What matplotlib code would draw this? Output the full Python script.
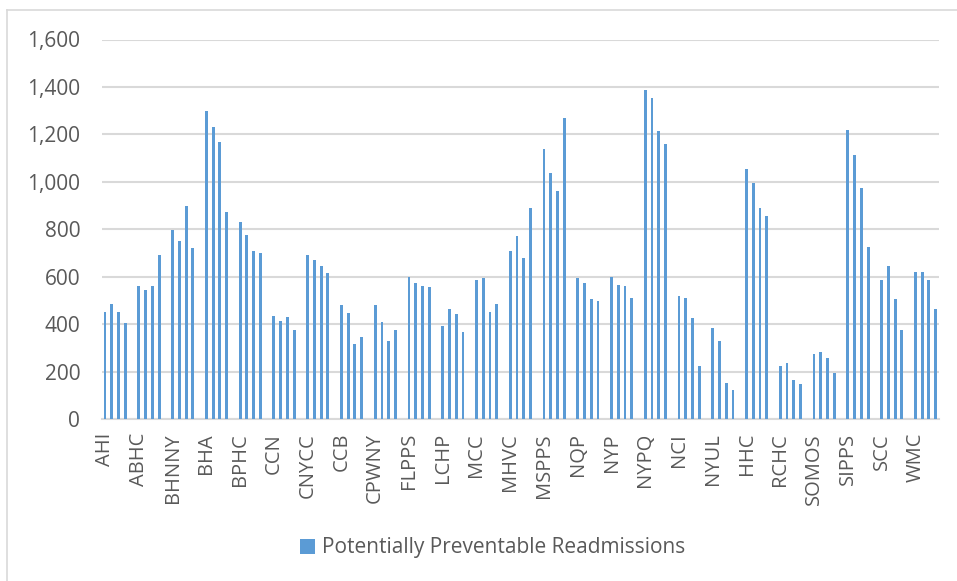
import matplotlib
matplotlib.use("Agg")
import matplotlib.pyplot as plt
from matplotlib.lines import Line2D
from matplotlib.patches import Patch
import numpy as np

plt.rcParams['font.family'] = ['Open Sans', 'DejaVu Sans']

pps_names = ["AHI", "ABHC", "BHNNY", "BHA", "BPHC", "CCN", "CNYCC", "CCB", "CPWNY",
             "FLPPS", "LCHP", "MCC", "MHVC", "MSPPS", "NQP", "NYP", "NYPQ", "NCI",
             "NYUL", "HHC", "RCHC", "SOMOS", "SIPPS", "SCC", "WMC"]
bar1 = [452, 560, 798, 1297, 830, 435, 690, 479, 479, 598, 393, 587, 707, 1139, 593, 597, 1386, 517, 382, 1052, 225, 273, 1219, 587, 619]
bar2 = [485, 543, 750, 1230, 777, 414, 669, 447, 409, 572, 463, 593, 770, 1037, 572, 565, 1354, 511, 327, 997, 235, 284, 1111, 646, 619]
bar3 = [452, 560, 896, 1167, 708, 431, 646, 317, 327, 559, 441, 452, 678, 961, 506, 559, 1214, 424, 153, 889, 164, 256, 976, 506, 587]
bar4 = [403, 690, 723, 874, 701, 376, 614, 344, 376, 555, 365, 483, 889, 1268, 496, 511, 1160, 225, 121, 857, 149, 192, 726, 376, 463]
series_label = "Potentially Preventable Readmissions"
y_ticks = [0, 200, 400, 600, 800, 1000, 1200, 1400, 1600]

# Build category slots: 4 bars per PPS, one blank slot between groups
xs, vals = [], []
label_pos = []
slot = 0
for i, name in enumerate(pps_names):
    label_pos.append(slot)
    for v in (bar1[i], bar2[i], bar3[i], bar4[i]):
        xs.append(slot)
        vals.append(v)
        slot += 1
    if i < len(pps_names) - 1:
        slot += 1
n_slots = slot

W, H = 957, 581
fig = plt.figure(figsize=(W / 100, H / 100), dpi=100)
left, right, top, bottom = 101.7, 939, 39.5, 419
ax = fig.add_axes([left / W, 1 - bottom / H, (right - left) / W, (bottom - top) / H])

blue = "#5B9BD5"
grey_text = "#595959"
ax.bar(xs, vals, width=0.42, color=blue, zorder=3)

ax.set_xlim(-0.5, n_slots - 0.5)
ax.set_ylim(0, 1600)
ax.set_yticks(y_ticks)
ax.set_yticklabels([f"{t:,}" for t in y_ticks])
ax.set_xticks(label_pos)
ax.set_xticklabels(pps_names, rotation=90, va="top", ha="center")

ax.grid(axis="y", color="#D9D9D9", linewidth=1.5, zorder=0)
ax.tick_params(axis="both", length=0, colors=grey_text, labelsize=15)
ax.tick_params(axis="y", pad=15.5)
ax.tick_params(axis="x", pad=10, labelsize=14.5)
for s in ["top", "right", "left"]:
    ax.spines[s].set_visible(False)
ax.spines["bottom"].set_color("#D9D9D9")
ax.spines["bottom"].set_linewidth(1.5)

handles = [Patch(facecolor=blue, edgecolor="none", label=series_label)]
leg = fig.legend(handles=handles, loc="center", bbox_to_anchor=(493 / W, 1 - 548 / H),
                 frameon=False, fontsize=15, handlelength=0.7, handleheight=0.7,
                 handletextpad=0.35, labelcolor=grey_text)

# chart area border
fig.add_artist(Line2D([7 / W, 7 / W], [0, 1 - 10 / H], transform=fig.transFigure,
                      color="#D9D9D9", linewidth=1.2))
fig.add_artist(Line2D([7 / W, 1], [1 - 10 / H, 1 - 10 / H], transform=fig.transFigure,
                      color="#D9D9D9", linewidth=1.2))

fig.savefig("out.png", dpi=100)
